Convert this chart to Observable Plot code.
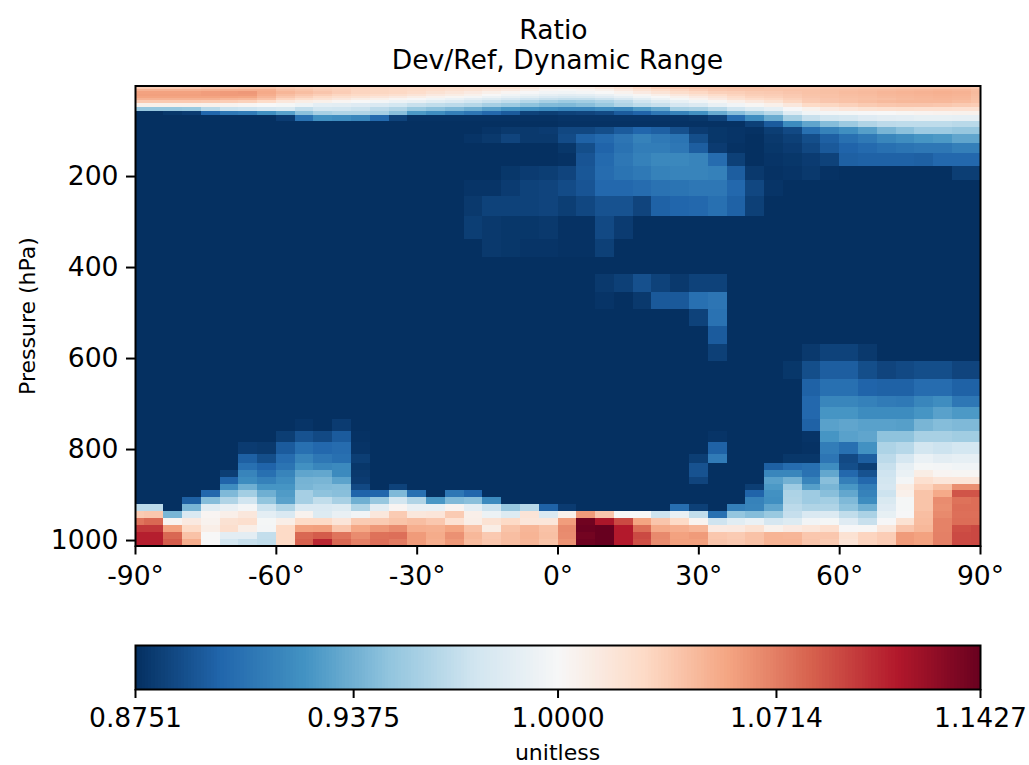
<!DOCTYPE html>
<html>
<head>
<meta charset="utf-8">
<script src="https://cdn.jsdelivr.net/npm/d3@7"></script>
<script src="https://cdn.jsdelivr.net/npm/@observablehq/plot@0.6"></script>
<style>
html,body{margin:0;padding:0;background:#fff;overflow:hidden}
body{width:1029px;height:765px;font-family:"DejaVu Sans",sans-serif;color:#000}
#title{height:70px;position:relative;text-align:center}
#title div{position:absolute;left:135px;width:845px;font-size:26.6px;line-height:30px;white-space:nowrap}
svg{display:block}
#caption{position:absolute;left:135px;width:845px;top:740px;text-align:center;font-size:22px;line-height:26px}
</style>
</head>
<body>
<div id="title"><div style="top:15px;margin-left:-4px">Ratio</div><div style="top:45px">Dev/Ref, Dynamic Range</div></div>
<div id="main"></div>
<div id="bar"></div>
<div id="caption">unitless</div>
<script>
const latEdges = [-90, ...d3.range(45).map(i => -88 + 4 * i), 90];
const pressureEdges = [1,5.05,9.29,13.64,19.79,23.73,28.37,33.81,40.18,47.64,56.39,66.6,78.51,92.37,108.66,127.84,150.39,176.93,208.15,244.88,288.08,337.5,378,415,454,492,530,569,606,646,683,708,735,760,784,811,831,845.2,860.5,875.8,891.05,906.3,921.6,936.9,952.2,967.5,982.8,998,1012];
const colorTicks = [0.8751, 0.9375, 1.0, 1.0714, 1.1427];
const rdbu = ["#053061","#2166ac","#4393c3","#92c5de","#d1e5f0","#f7f7f7","#fddbc7","#f4a582","#d6604d","#b2182b","#67001f"];
const floorPct = 87.5;
// each row: start column, values (percent of Dev/Ref), ... ; unlisted cells sit at the floor
function row(...parts){
  const r = new Array(46).fill(floorPct);
  for(let k=0;k<parts.length;k+=2) parts[k+1].forEach((v,j)=>{r[parts[k]+j]=v;});
  return r;
}
const ratioPercentByLevel = [
row(0,[103,103,103,103,103.2,103.2,103.3,103.3,103,102.9,102.8,102.7,102.5,102.5,102.4,102.4,102.3,102.3,102.2,102.1,102,101.9,101.6,101.6,101.8,102,102.3,102.7,103,103.2,103.4,103.5,103.5,103.4,103.3,103.2,103.1,103,103,103,103,103,103,103,103,103]),
row(0,[103.5,103.5,103.5,103.6,103.8,103.8,104,104,103.6,103.4,103.2,103.1,103,102.9,102.8,102.7,102.6,102.4,102.2,102.1,102,101.5,101,100.9,101,101.5,102,102.8,103.3,103.6,103.8,103.9,104,104,103.8,103.7,103.7,103.8,103.8,103.9,103.9,104,104,104,104,103.8]),
row(0,[104.8,104.8,104.8,104.8,104.9,105,105,105,104.2,103.9,103.5,103.3,103,102.9,102.8,102.7,102.5,102.2,102,101.6,101.3,100.8,100.3,100.1,100.3,100.6,101.3,102,102.6,103,103.4,103.7,103.8,103.9,103.9,104,104,104.1,104.2,104.3,104.4,104.5,104.6,104.7,104.6,104.3]),
row(0,[105.6,105.6,105.6,105.6,105.8,105.9,106,105.2,104.6,104.2,103.8,103.4,103,102.9,102.8,102.5,102,101.6,101.2,100.7,100.3,99.9,99.6,99.5,99.7,100,100.5,101.2,101.8,102.4,102.8,103.2,103.3,103.5,103.6,103.8,104,104.1,104.3,104.4,104.6,104.7,104.8,104.9,104.8,104.4]),
row(0,[105.7,105.7,105.7,105.7,105.8,105.9,105.9,105,104.2,103.7,103.3,102.9,102.7,102.5,102.2,101.8,101.3,101,100.6,100,99.5,99.2,98.8,98.6,98.7,99,99.6,100.2,100.8,101.4,102,102.5,103,103.3,103.4,103.6,103.9,104,104.2,104.3,104.5,104.6,104.7,104.8,104.7,104.3]),
row(0,[105.5,105.5,105.5,105.5,105.5,105.5,105.4,104.6,103.7,103.2,102.7,102.3,102,101.7,101.3,100.9,100.5,100.2,99.7,99.2,98.8,98.5,98,97.8,97.9,98.3,98.8,99.5,100,100.6,101.2,101.8,102.5,103,103.2,103.5,103.8,104,104.1,104.2,104.4,104.5,104.6,104.7,104.6,104.2]),
row(0,[104.8,104.8,104.8,104.8,104.8,104.6,104.5,104,103,102.4,102,101.5,101,100.7,100.3,99.9,99.5,99.1,98.6,98.2,97.7,97.3,97,96.8,96.8,97.1,97.7,98.5,99.2,99.8,100.5,101.2,102,102.5,102.8,103.2,103.6,103.8,104,104.1,104.2,104.4,104.5,104.6,104.5,104.1]),
row(0,[103.6,103.6,103.6,103.6,103.5,103.4,103.2,102.6,101.5,101,100.7,100.3,100,99.7,99.3,99,98.5,98.1,97.6,97.1,96.7,96.2,95.7,95.3,95.5,95.9,96.5,97.4,98.2,98.9,99.5,100.2,100.8,101.4,102,102.9,103.5,103.8,104,104.2,104.4,104.5,104.5,104.5,104.3,104]),
row(0,[100.7,100.7,100.7,100.7,100.6,100.5,100.3,100,99.8,99.4,98.7,98.6,98.3,98,97.6,97,96.7,96.5,96.2,95.6,95.2,94.7,94.3,94.2,94.5,95.1,96,96.6,97,97.7,98.1,99,99.6,100.2,100.7,101.5,102.7,102.9,103.2,103.5,103.7,103.8,103.8,103.7,103.5,103.4]),
row(0,[95,95,95,95.1,96.4,97.1,97.3,97.7,97.9,96.8,97.5,97.4,97.1,96.5,96,95.1,94.6,94.2,93.7,93,92.4,92.2,91.9,91.6,91.6,92,91.7,92.7,93.4,95.5,95.7,96.4,97.4,98.2,98.8,99.9,100.6,101.3,101.7,102,102.2,102.3,102.2,102.2,102.1,102.1]),
row(0,[87.5,87.5,87.8,88,89.9,90.8,91,92.1,93,94.6,95.7,96,96,95.6,94.5,92.6,92,91.2,90.7,90,89.4,88.3,88.1,88.3,88.4,88.6,89.4,89.8,90.8,91.4,92.2,93.5,94.5,95.5,96.4,98.4,99.5,99.7,99.8,99.9,100,100.2,100.4,100.5,100.6,100.6]),
row(8,[88,90.5,92.2,92,91.6,90.1,88.3],15,[87.6,87.6,87.6,87.6,87.6,87.6,87.6,87.6,87.7,87.7,87.7,87.7,87.7,87.7,87.7,87.8,88.3,90.2,92,93.5,95.7,97,97.5,97.8,98.3,98.6,98.7,98.9,98.9,98.8,98.8]),
row(23,[87.6,87.6,87.6,87.6,87.6,87.6,87.6,87.6,87.6,87.6,88.2,89.4,91.9,93.2,94.4,95.2,96,96.5,96.6,96.6,96.6,96.4,96.4]),
row(19,[87.7,87.9,87.9,88,88.5,88.5,88.8,89.4,89.9,89.6,88.9,88,87.8,87.7,87.6,88.1,88.6,90.4,91.4,92.1,92.9,94,94.6,95.3,95.3,95,95]),
row(18,[87.7,87.9,88.4,87.9,87.9,88.7,89.7,90.1,90.7,91.4,90.9,90.6,88.8,87.8,87.7,87.5,87.9,88.2,88.8,89.6,90.4,90.9,91.6,92,92.4,92.6,93.2,93.2]),
row(23,[87.8,88.8,89.8,90.5,91.1,91.1,90.8,89.5,88,87.6,87.5,87.8,88,88.5,89.3,89.8,90.1,90.4,90.6,90.8,90.8,91.2,91.2]),
row(23,[87.6,89.1,90.1,90.8,91.3,91.7,91.7,91.5,90.2,88.2,87.5,87.7,87.8,88,88.3,89.6,89.7,89.7,89.7,89.6,90,90,90]),
row(20,[87.8,88,88.1,88.4,89.2,90.2,90.6,90.9,91.4,91.5,91.5,91.3,89.5,87.9,87.6,87.7,87.9,87.6],44,[88.1,88.1]),
row(18,[87.7,87.7,88,88.3,88.4,88.7,89.1,90,90,90.2,90.5,90.6,90.8,90.8,90,88.5,87.7]),
row(18,[87.9,88.3,88.3,88.3,88.4,88.1,88.5,89,89,88.4,89.7,89.9,90,90.4,89.7,88.2]),
row(18,[88.1,87.9,87.8,87.8,87.9,87.6,87.6,88.6,88]),
row(19,[87.9,87.8,87.7,87.7,87.6,87.6,88.2]),
row(),
row(25,[87.9,88.2,88.9,88.3,87.9,88.3,88.3]),
row(25,[87.7,87.5,87.9,89.3,89.3,90.4,90.7]),
row(30,[88.3,90.5]),
row(31,[89.4]),
row(31,[88.2],36,[87.9,88.3,88.3,87.9]),
row(35,[87.8,88.8,89.5,89.5,88.8,88.4,88.6,88.8,88.8,88.4,88.4]),
row(36,[89.7,90.4,90.4,89.8,89.7,89.7,90.2,90.2,89.7,89.7]),
row(36,[90,91.6,91.6,91.3,91,90.9,91.6,92,90.8,90.8]),
row(36,[90,92.4,92.4,91.9,91.9,91.9,92.4,93,92.6,92.6]),
row(9,[87.7,87.5,88],36,[89.7,93,93.2,93,93,92.9,94,94.4,94.2,94.2]),
row(8,[88.1,89,88.6,89.4,87.6],31,[87.7],36,[87.7,92.4,93,93.2,94.7,94.7,95.7,95.7,95.4,95.4]),
row(6,[88,87.9,89.4,90.4,90,90.2,87.7],31,[89.7],36,[87.6,91.1,90.4,92.2,95.9,96.3,97.5,97.2,97.6,97.6]),
row(6,[89.6,88.8,90.2,91.5,90.8,90.4,88.1],30,[88.1,91],35,[87.8,87.8,90.7,88.6,89.5,96.5,97.7,99.1,98.6,98.8,98.8]),
row(6,[90.4,89.8,90.6,92.2,91.6,91.8,87.8],30,[89],34,[89.6,90.2,90.4,92,88.8,88.1,97,98.8,99.8,99.7,99.5,99.5]),
row(5,[88.1,91.5,90.4,91.5,93.2,93.3,91.8,87.9],30,[89],34,[91.6,91.6,90.5,93.3,90,89,97.3,99.1,101,100.3,100.2,100.2]),
row(5,[89.8,91.9,91.3,92,93.9,94,93.1,88],30,[88.4],34,[93,93.8,91.5,94.5,91.2,90,97.5,99.7,102.2,101.6,101.6,101.6]),
row(5,[92,93.7,92.4,92.4,94,94.3,94.4,88.6,87.5,88.3],33,[88.1,92.6,95.3,92.9,94,92.5,91.1,97.7,101,103.1,104.1,106.4,106.4]),
row(4,[90,94.2,95.5,93.7,92.7,95.6,94.7,94.5,89.8,89.9,94.2,90.4,87.5,90.8,89.9],33,[89.8,92.2,95.9,95.3,94.5,93.3,91.4,97.2,100.7,103.9,105.2,108.8,108.8]),
row(3,[89.6,94.4,96,97.4,94.8,93,95.6,96.7,95.7,93.7,95,97.5,96,92.5,94.2,94.5,91.8],33,[91.4,92.1,96,95.3,95.5,94.2,91.9,97.9,99.8,103.9,106.5,107.6,107.8]),
row(0,[96.5,96.5,87.5,94,98.5,99,99.7,97.2,96,98,98,98.2,96,98.6,100.3,99,99,100.4,98.7,97.2,95,96.3,89.7,88],29,[90.3,88.2,87.5,91.2,91.5,93.2,96.5,96,96,94.7,93.7,98.3,99.8,103.9,106.4,107.8,107.8]),
row(0,[103.5,103.7,94,98,100.3,100.8,101.5,98.7,98,100.5,98.2,99,99.6,101.5,103.5,101.5,101.7,103.5,100.8,99.2,98.2,101.8,98,100.7,105.9,103.8,100,100,97.2,99,96.7,90.4,94.9,94.4,95.1,96.9,98,98.1,96.7,95.8,98.9,99.9,104.2,106.6,107.7,107.7]),
row(0,[107.5,108,100.4,101.3,100.5,102,102.3,99.8,100.9,102.7,102.7,101.7,103.5,103.5,103.9,104.2,103.7,102.1,100.9,102,102.7,101.6,101.6,105.8,113.9,111.5,109.2,105.5,103.8,102.7,100.4,97.3,98.5,99.1,97.7,98.2,99.6,99.8,98.3,97,99.9,102,104.3,106.9,107.8,107.8]),
row(0,[110,110,105.6,102.7,100.9,102.3,100.9,99.7,102.7,105.6,105.7,103.7,105.3,106,106.5,105,104.9,105.5,104,101,103.9,104.6,104,106.6,114.1,114.3,111.2,107.8,105.2,105,104.6,101.2,101.3,102,100.6,101.2,101.6,102.2,99.9,100.1,101.5,103.8,104.5,106.9,109,109.3]),
row(0,[111,111,108,104,100,98.6,98.6,96.8,102.7,108,108.5,107.5,106.5,107.6,107.7,105.9,105.1,106.3,104.5,103.6,104.2,104.7,104.1,106.5,113.8,114.3,111.2,109.2,106.6,105.6,105.9,103.7,103.5,104,104.7,104.6,103.7,103.7,102,103,103.4,105.9,105.6,107,109.2,109.3]),
row(0,[111,111,108.5,105,100,97.6,97,96.7,102.7,108.3,110.7,108,107,107.7,107.2,105.9,105,106,104.3,103.7,104.2,104.6,103.9,106.2,114,114.3,111.2,109,106.5,105.7,105.7,103.8,103.6,104,104.7,104.7,103.8,103.5,101.8,103,103.4,105.9,105.6,107,109.2,109.3])
];
const cells = [];
ratioPercentByLevel.forEach((r, level) => r.forEach((v, c) => cells.push({
  lat1: latEdges[c], lat2: latEdges[c+1],
  p1: pressureEdges[level], p2: pressureEdges[level+1], ratio: v/100
})));

const colorScale = {type:"log", domain:[colorTicks[0], colorTicks[4]], interpolate:d3.piecewise(d3.interpolateRgb, rdbu), clamp:true};
const font = "DejaVu Sans";
const tickFont = 26.6;
const labelFont = 22;

const main = Plot.plot({
  width:1029, height:560, marginLeft:135, marginRight:49, marginTop:15.5, marginBottom:84.5,
  style:{fontFamily:font, background:"#fff", color:"#000"},
  x:{domain:[-90,90]}, y:{domain:[1012,1]}, color:colorScale,
  marks:[
    Plot.rect(cells,{x1:"lat1",x2:"lat2",y1:"p2",y2:"p1",fill:"ratio",shapeRendering:"crispEdges"}),
    Plot.frame({stroke:"#000",strokeWidth:2}),
    Plot.axisX({ticks:[-90,-60,-30,0,30,60,90],tickFormat:d=>d+"°",tickSize:9,tickPadding:11,fontSize:tickFont,label:null,stroke:"#000",strokeWidth:2,fill:"#000"}),
    Plot.axisY({ticks:[200,400,600,800,1000],tickFormat:d=>String(d),tickSize:9,tickPadding:8,fontSize:tickFont,label:null,stroke:"#000",strokeWidth:2,fill:"#000"}),
    Plot.text(["Pressure (hPa)"],{frameAnchor:"left",textAnchor:"middle",rotate:-90,dx:-108,fontSize:labelFont,fill:"#000"})
  ]
});
document.getElementById("main").append(main);

const barSteps = d3.range(257).map(i => colorTicks[0]*Math.pow(colorTicks[4]/colorTicks[0], i/257));
const barCells = barSteps.map((v,i) => ({a:v, b: i<256 ? barSteps[i+1] : colorTicks[4]}));
const bar = Plot.plot({
  width:1029, height:105, marginLeft:135, marginRight:49, marginTop:15, marginBottom:46,
  style:{fontFamily:font, background:"#fff", color:"#000"},
  x:{type:"log", domain:[colorTicks[0],colorTicks[4]]}, y:{axis:null,domain:[0,1]}, color:colorScale,
  marks:[
    Plot.rect(barCells,{x1:"a",x2:"b",y1:0,y2:1,fill:"a",shapeRendering:"crispEdges"}),
    Plot.frame({stroke:"#000",strokeWidth:2}),
    Plot.axisX({ticks:colorTicks,text:null,tickSize:9,label:null,stroke:"#000",strokeWidth:2}),
    Plot.text(colorTicks,{x:d=>d,text:d3.format(".4f"),frameAnchor:"bottom",lineAnchor:"top",dy:19,fontSize:tickFont,fill:"#000"})
  ]
});
document.getElementById("bar").append(bar);
</script>
</body>
</html>
